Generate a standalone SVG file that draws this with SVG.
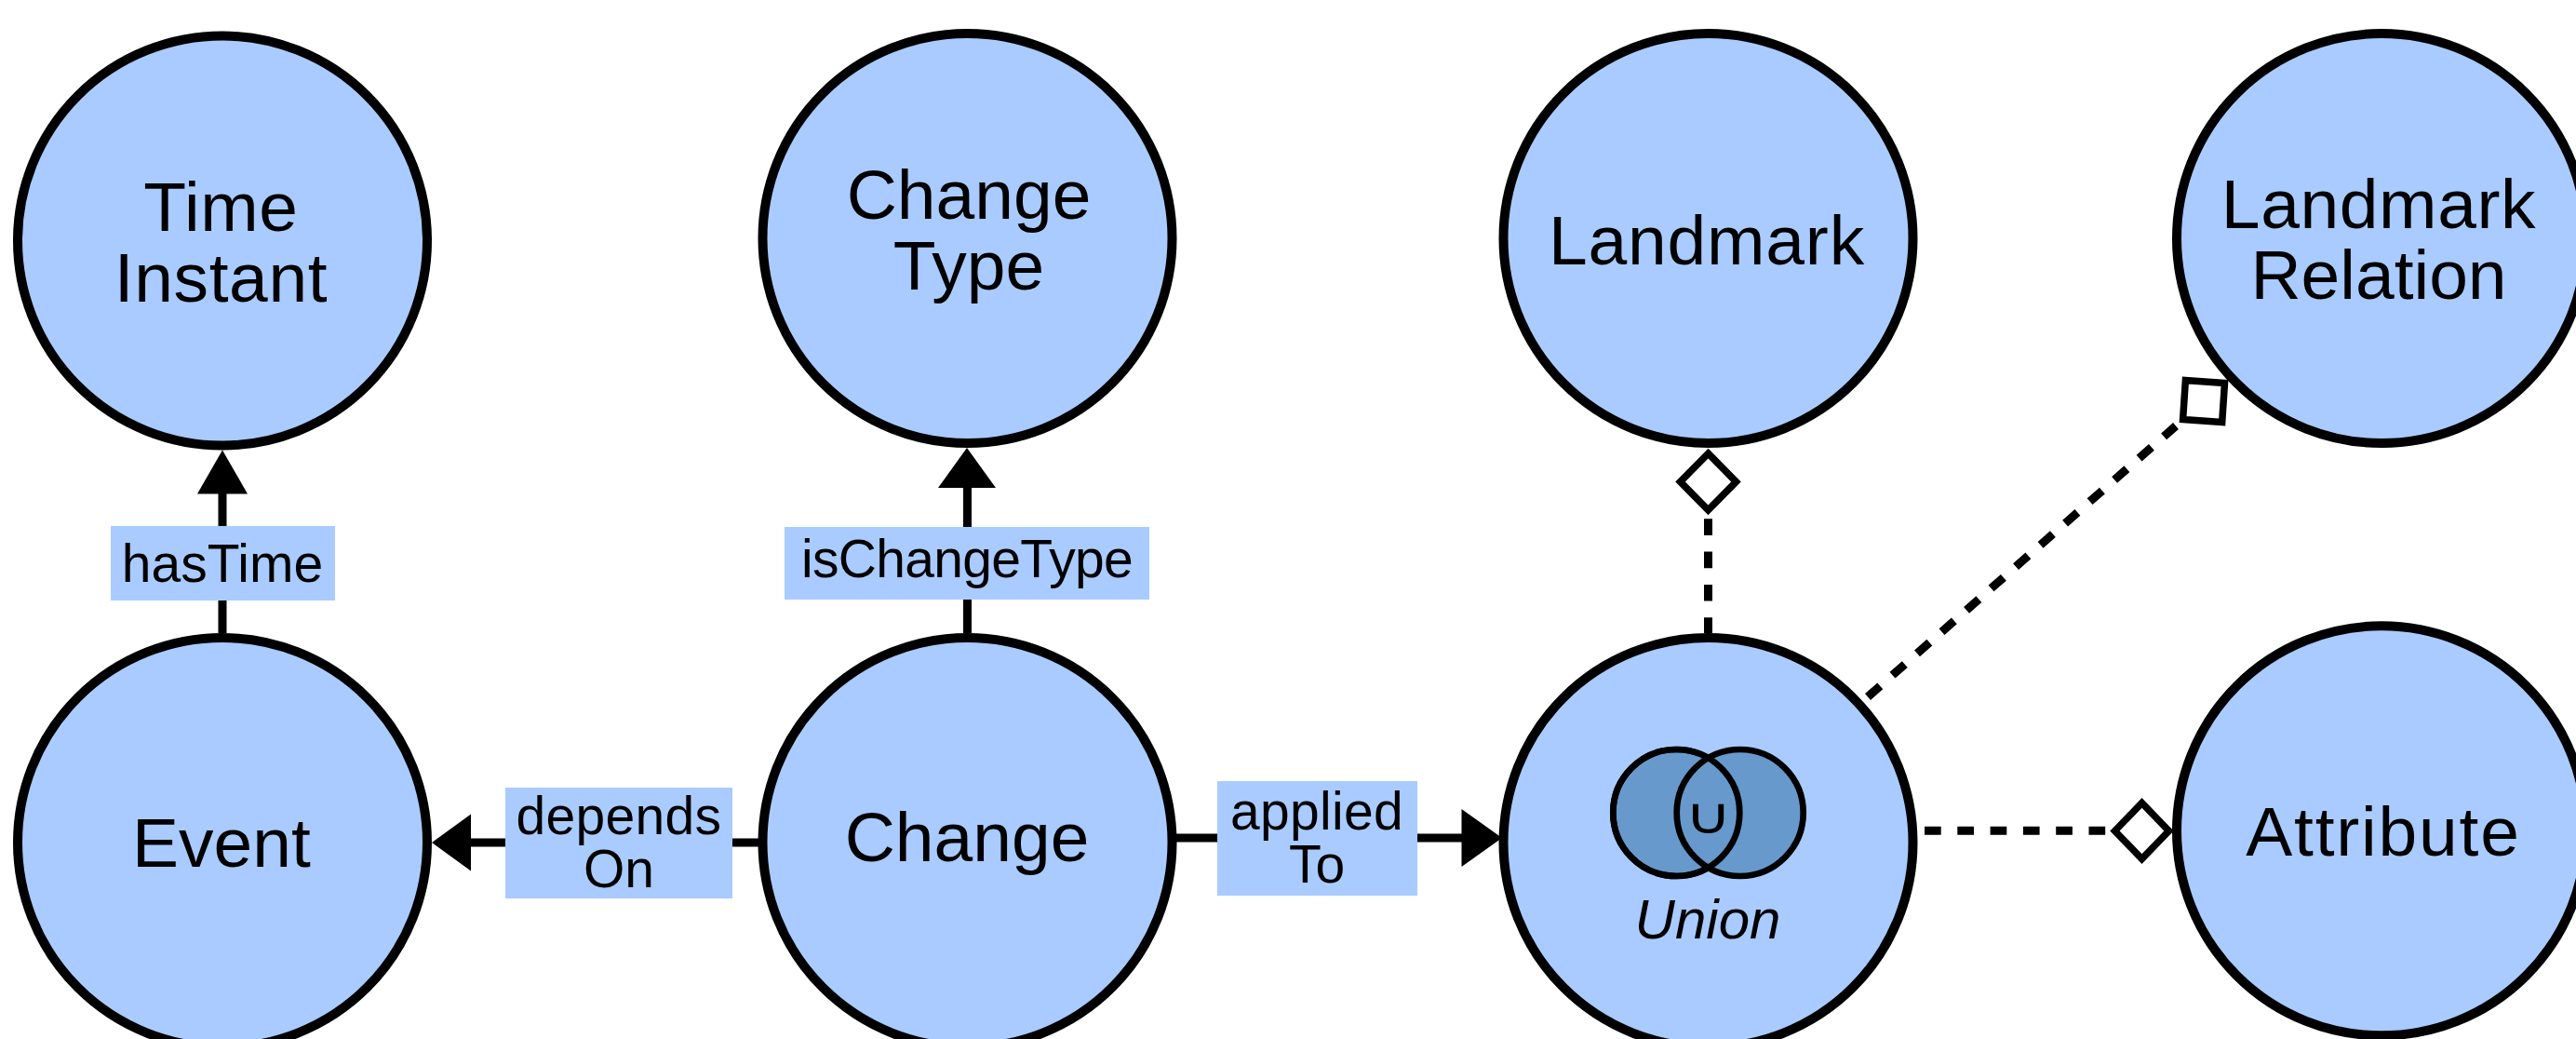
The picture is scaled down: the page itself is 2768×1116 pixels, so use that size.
<svg xmlns="http://www.w3.org/2000/svg" width="2768" height="1116" viewBox="0 0 2768 1116">
<style>
text{font-family:"Liberation Sans",Arial,sans-serif;fill:#000;text-anchor:middle}
.node{fill:#A9CBFF;stroke:#000;stroke-width:10}
.t{font-size:75px}
.l{font-size:57px}
.u{font-size:60px;font-style:italic}
.edge{stroke:#000;stroke-width:9;fill:none}
.dash{stroke:#000;stroke-width:9;fill:none;stroke-dasharray:17.7 17.6}
.head{fill:#000}
.open{fill:#fff;stroke:#000;stroke-width:7.5}
.lab{fill:#A9CBFF}
.venn{fill:#6799CC;stroke:#000;stroke-width:6.7}
.vennb{fill:none;stroke:#000;stroke-width:6.7}
</style>
<rect width="2768" height="1116" fill="#fff"/>
<g id="connectors">
<line class="edge" x1="239" y1="680" x2="239" y2="528"/>
<polygon class="head" points="239,483.5 266,530.5 212,530.5"/>
<line class="edge" x1="1039.5" y1="680" x2="1039.5" y2="522"/>
<polygon class="head" points="1039,481 1070,524 1008,524"/>
<line class="edge" x1="815" y1="905" x2="504" y2="905"/>
<polygon class="head" points="464,905 506,874.5 506,935.5"/>
<line class="edge" x1="1264" y1="900" x2="1572" y2="900"/>
<polygon class="head" points="1614,900 1570.5,869 1570.5,931"/>
<line class="dash" x1="1835.5" y1="557.3" x2="1835.5" y2="680"/>
<polygon class="open" points="1835.5,487 1865.5,517.5 1835.5,548 1805.5,517.5"/>
<line class="dash" x1="2007" y1="748.5" x2="2338" y2="457.5"/>
<polygon class="open" points="2348.4,408.5 2390.5,411.4 2387.7,453.5 2345.6,450.6"/>
<line class="dash" x1="2068" y1="892.3" x2="2264" y2="892.3"/>
<polygon class="open" points="2272.5,892.5 2301.5,862.5 2330.5,892.5 2301.5,922.5"/>
<g id="label-hasTime"><rect class="lab" x="119" y="565" width="241" height="80"/><text class="l" x="239" y="625">hasTime</text></g>
<g id="label-isChangeType"><rect class="lab" x="843" y="566" width="392" height="78"/><text class="l" x="1039" y="620" letter-spacing="-0.7">isChangeType</text></g>
<g id="label-dependsOn"><rect class="lab" x="543" y="846" width="244" height="119"/><text class="l" x="665" y="896" letter-spacing="0.3">depends</text><text class="l" x="665" y="953">On</text></g>
<g id="label-appliedTo"><rect class="lab" x="1308" y="839" width="215" height="123"/><text class="l" x="1415" y="891" letter-spacing="0.3">applied</text><text class="l" x="1415" y="948">To</text></g>
</g>
<g id="time-instant"><circle class="node" cx="239" cy="258.5" r="220"/><text class="t" x="237.5" y="248" letter-spacing="0.6">Time</text><text class="t" x="237.5" y="324" letter-spacing="0.6">Instant</text></g>
<g id="change-type"><circle class="node" cx="1039.5" cy="256" r="220"/><text class="t" x="1041" y="235">Change</text><text class="t" x="1041" y="311">Type</text></g>
<g id="landmark"><circle class="node" cx="1835.5" cy="256" r="220"/><text class="t" x="1834" y="283.5" letter-spacing="0.8">Landmark</text></g>
<g id="landmark-relation"><circle class="node" cx="2559" cy="256" r="220"/><text class="t" x="2556" y="245" letter-spacing="0.6">Landmark</text><text class="t" x="2556" y="321">Relation</text></g>
<g id="event"><circle class="node" cx="239" cy="905" r="220"/><text class="t" x="238" y="931">Event</text></g>
<g id="change"><circle class="node" cx="1039.5" cy="905" r="220"/><text class="t" x="1039" y="925">Change</text></g>
<g id="union"><circle class="node" cx="1835.5" cy="905" r="220"/>
<circle class="venn" cx="1801.3" cy="873" r="68"/><circle class="venn" cx="1869.7" cy="873" r="68"/><circle class="vennb" cx="1801.3" cy="873" r="68"/>
<text transform="translate(1835.5 895) scale(1 .77)" style="font-family:'DejaVu Sans',sans-serif;font-size:70px">∪</text>
<text class="u" x="1835" y="1008">Union</text></g>
<g id="attribute"><circle class="node" cx="2559" cy="892.3" r="220"/><text class="t" x="2561" y="919" letter-spacing="1.8">Attribute</text></g>
</svg>
